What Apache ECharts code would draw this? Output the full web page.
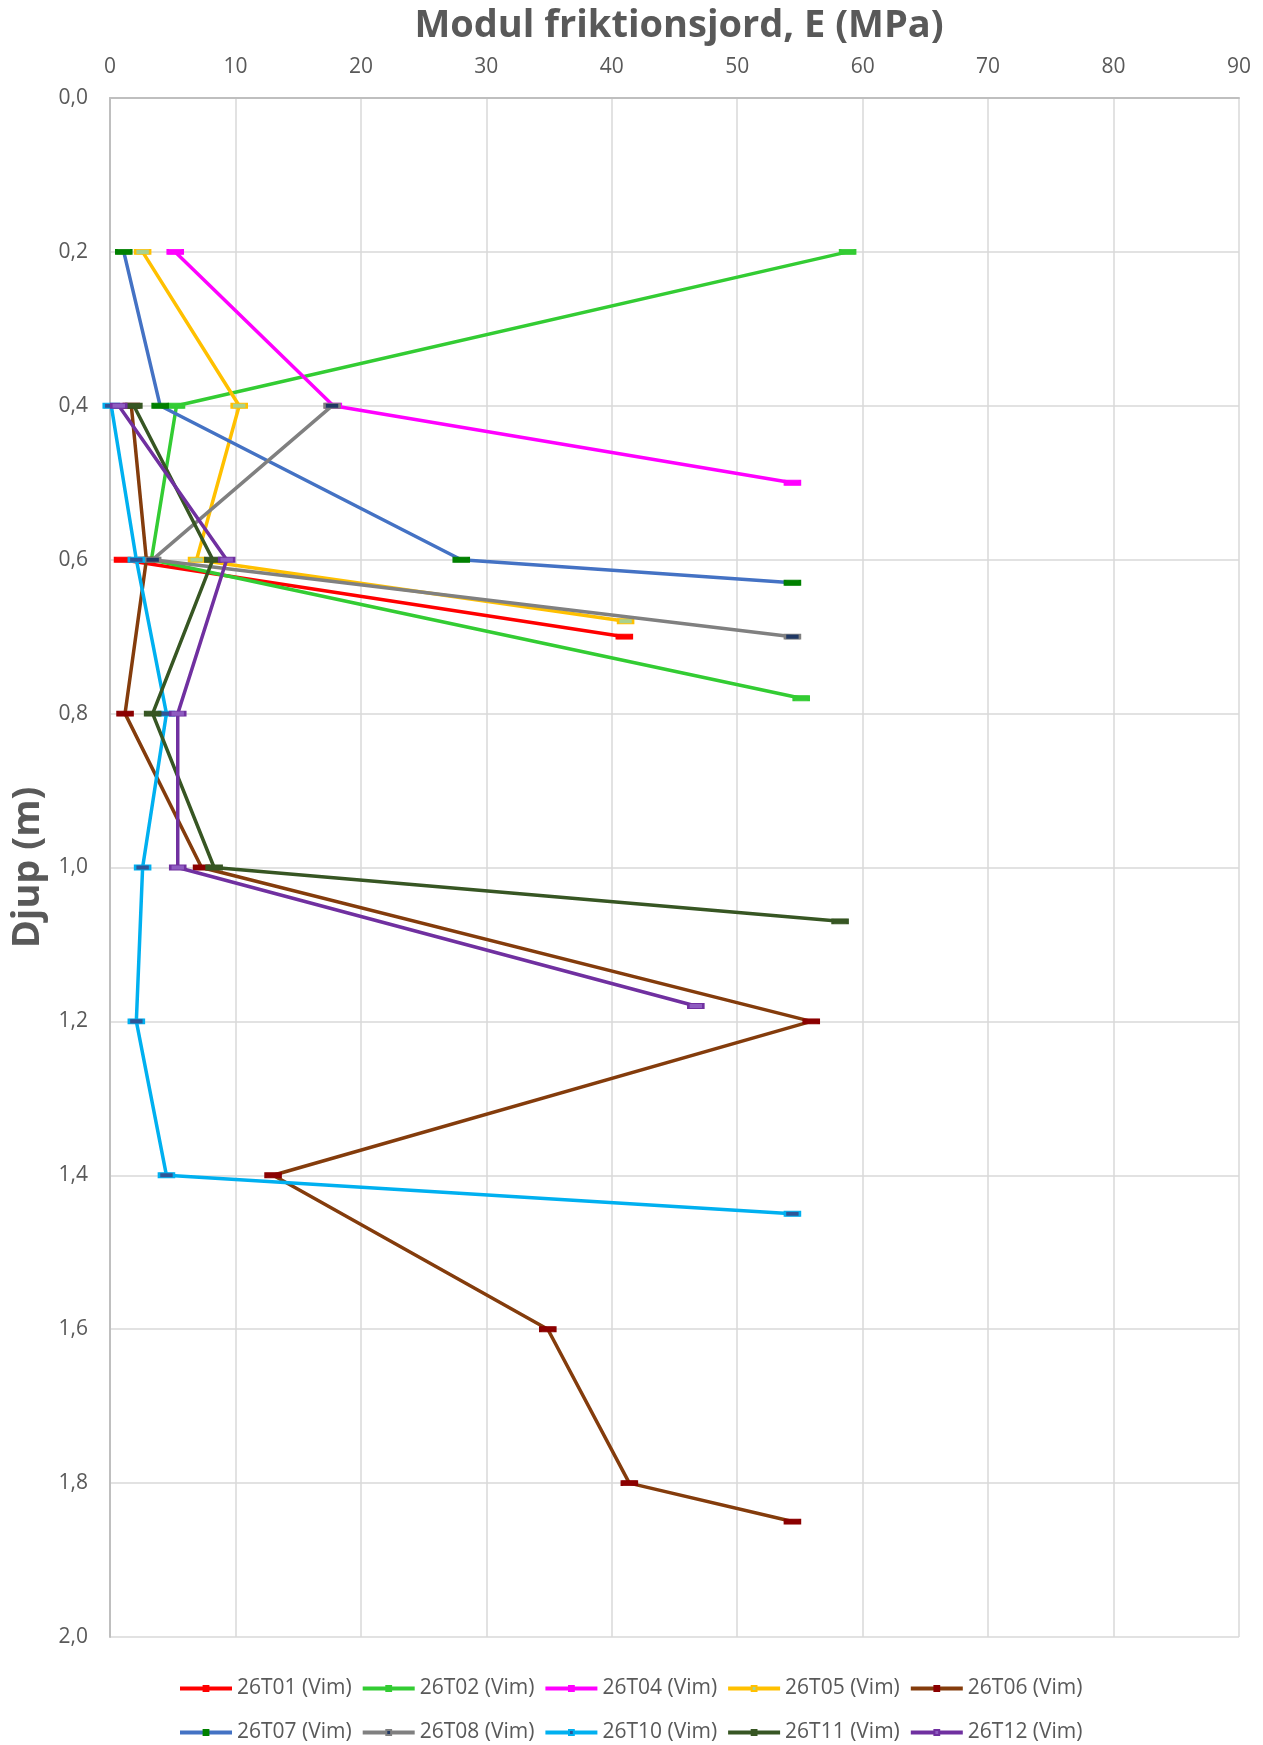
<!DOCTYPE html>
<html><head><meta charset="utf-8">
<script src="https://cdn.jsdelivr.net/npm/echarts@6/dist/echarts.min.js"></script>
<style>html,body{margin:0;padding:0;background:#fff}#c{width:1263px;height:1745px}</style>
</head><body><div id="c"></div>
<script>
// Series names
const names = ['26T01 (Vim)','26T02 (Vim)','26T04 (Vim)','26T05 (Vim)','26T06 (Vim)','26T07 (Vim)','26T08 (Vim)','26T10 (Vim)','26T11 (Vim)','26T12 (Vim)'];
// Modulus E (MPa) per series
const e01 = [1.0, 41.0];
const e02 = [58.8, 5.3, 3.3, 55.1];
const e04 = [5.2, 17.8, 54.4];
const e05 = [2.6, 10.3, 6.9, 41.1];
const e06 = [1.7, 2.9, 1.2, 7.3, 55.9, 13.0, 34.9, 41.4, 54.4];
const e07 = [1.1, 4.0, 28.0, 54.4];
const e08 = [17.7, 3.4, 54.4];
const e10 = [0.1, 2.1, 4.5, 2.6, 2.1, 4.5, 54.4];
const e11 = [1.9, 8.2, 3.4, 8.3, 58.2];
const e12 = [0.7, 9.3, 5.4, 5.4, 46.7];
// Depth (m) per series
const d01 = [0.6, 0.70];
const d02 = [0.2, 0.4, 0.6, 0.78];
const d04 = [0.2, 0.4, 0.50];
const d05 = [0.2, 0.4, 0.6, 0.68];
const d06 = [0.4, 0.6, 0.8, 1.0, 1.2, 1.4, 1.6, 1.8, 1.85];
const d07 = [0.2, 0.4, 0.6, 0.63];
const d08 = [0.4, 0.6, 0.70];
const d10 = [0.4, 0.6, 0.8, 1.0, 1.2, 1.4, 1.45];
const d11 = [0.4, 0.6, 0.8, 1.0, 1.07];
const d12 = [0.4, 0.6, 0.8, 1.0, 1.18];
// Axis ticks
const xTicks = [0,10,20,30,40,50,60,70,80,90];
const yTicks = [0,0.2,0.4,0.6,0.8,1.0,1.2,1.4,1.6,1.8,2.0];

const E = [e01,e02,e04,e05,e06,e07,e08,e10,e11,e12];
const D = [d01,d02,d04,d05,d06,d07,d08,d10,d11,d12];
const lineColors = ['#FF0000','#33CC33','#FF00FF','#FFC000','#843C0C','#4472C4','#808080','#00B0F0','#375623','#7030A0'];
const markColors = ['#FF0000','#33CC33','#FF00FF','#A9D18E','#8B0000','#008000','#203864','#2F5597','#375623','#8E5CC0'];
const markBorders= ['#FF0000','#33CC33','#FF00FF','#FFC000','#8B0000','#008000','#808080','#00B0F0','#375623','#7030A0'];

const FONT = '"Liberation Sans Narrow","Open Sans",sans-serif';
const series = names.map((n,i)=>({
  name:n, type:'line',
  data:E[i].map((v,k)=>[v,D[i][k]]),
  symbol:'rect', symbolSize:[15,5], showSymbol:true,
  lineStyle:{color:lineColors[i], width:3.5},
  itemStyle:{color:markColors[i], borderColor:markBorders[i], borderWidth:1.5},
  emphasis:{disabled:true}, animation:false, z:2+i
}));

const legendBase = {itemWidth:52, itemHeight:6, itemGap:9,
  lineStyle:{width:4},
  textStyle:{fontFamily:FONT, fontSize:21, color:'#595959'}};

const chart = echarts.init(document.getElementById('c'), null, {renderer:'canvas'});
chart.setOption({
  animation:false,
  title:{text:'Modul friktionsjord, E (MPa)', left:674, top:2, textAlign:'center',
    textStyle:{fontFamily:FONT, fontWeight:'bold', fontSize:38, color:'#595959'}},
  grid:{left:110, right:24, top:98, bottom:108, containLabel:false},
  xAxis:{type:'value', position:'top', min:0, max:90, interval:10,
    axisLine:{show:true, lineStyle:{color:'#BFBFBF', width:2}},
    axisTick:{show:false},
    axisLabel:{margin:20, fontFamily:FONT, fontSize:21, color:'#595959',
      formatter:v=> xTicks.includes(v)? String(v):''},
    splitLine:{show:true, lineStyle:{color:'#D9D9D9', width:1.5}}},
  yAxis:{type:'value', inverse:true, min:0, max:2, interval:0.2,
    name:'Djup (m)', nameLocation:'middle', nameGap:62, nameRotate:90,
    nameTextStyle:{fontFamily:FONT, fontWeight:'bold', fontSize:38, color:'#595959'},
    axisLine:{show:true, lineStyle:{color:'#BFBFBF', width:2}},
    axisTick:{show:false},
    axisLabel:{margin:22, fontFamily:FONT, fontSize:21, color:'#595959',
      formatter:v=>{const t=yTicks.find(a=>Math.abs(a-v)<1e-6); return t===undefined?'':t.toFixed(1).replace('.',',');}},
    splitLine:{show:true, lineStyle:{color:'#D9D9D9', width:1.5}}},
  legend:[
    Object.assign({}, legendBase, {data:names.slice(0,5), left:173, top:1673}),
    Object.assign({}, legendBase, {data:names.slice(5), left:173, top:1717})
  ],
  series:series
});
</script></body></html>
